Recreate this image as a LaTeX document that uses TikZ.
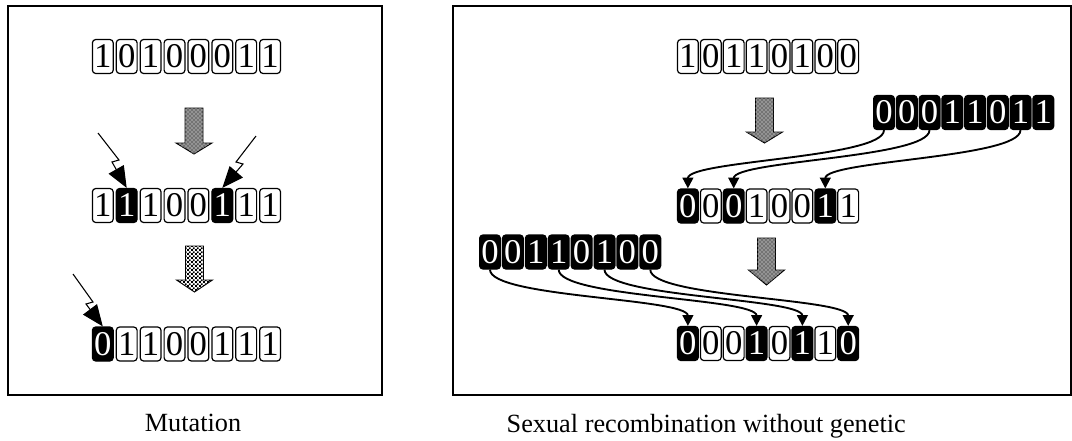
\documentclass[tikz,border=0pt]{standalone}
\usepackage{fontspec}
\setmainfont{Liberation Serif}
\usepackage{tikz}
\usetikzlibrary{arrows.meta,patterns}

\pgfdeclarepatternformonly{finechecker}{\pgfpointorigin}{\pgfqpoint{2.8pt}{2.8pt}}%
  {\pgfqpoint{2.8pt}{2.8pt}}{%
  \pgfpathrectangle{\pgfpointorigin}{\pgfqpoint{1.4pt}{1.4pt}}%
  \pgfpathrectangle{\pgfqpoint{1.4pt}{1.4pt}}{\pgfqpoint{1.4pt}{1.4pt}}%
  \pgfusepath{fill}}

% one chromosome: name, x of first cell, y, pitch, list digit/style
\newcommand{\bitrow}[5]{%
  \foreach \dig/\sty [count=\i] in {#5}
    \node[\sty] (#1-\i) at ({#2+(\i-1)*#4},#3) {\dig};
}
% block arrow: x, top, head, tip, style
\newcommand{\bigarrow}[5]{%
  \draw[#5] (#1-9,#2) -- (#1+9,#2) -- (#1+9,#3) -- (#1+18,#3) -- (#1,#4)
    -- (#1-18,#3) -- (#1-9,#3) -- cycle;
}

\begin{document}
\begin{tikzpicture}[x=0.75pt, y=-0.75pt,
    bit/.style={rounded corners=2.5pt, line width=0.9pt, minimum width=15.6pt,
      minimum height=25.5pt, inner sep=0pt, font=\fontsize{26}{26}\selectfont},
    wb/.style={bit, draw=black, fill=white, text=black},
    bb/.style={bit, draw=black, fill=black, text=white},
    dotarrow/.style={draw=black, line width=0.7pt, fill=black!55,
      postaction={pattern=crosshatch dots, pattern color=white}},
    checkarrow/.style={draw=black, line width=0.7pt, fill=white,
      postaction={pattern=finechecker, pattern color=black}},
    bolt/.style={line width=0.8pt, -{Triangle[length=16pt,width=13pt]}},
    link/.style={line width=1.4pt, -{Triangle[length=8pt,width=8pt]}}]
    \useasboundingbox (0,0) rectangle (1072,440);

    % Frames
    \draw[line width=1.1pt] (8,6) rectangle (382,395);
    \draw[line width=1.1pt] (453,6) rectangle (1071,395);

    % Mutation
    \bitrow{ma}{102.8}{56.5}{23.9}{1/wb,0/wb,1/wb,0/wb,0/wb,0/wb,1/wb,1/wb}
    \bitrow{mb}{102.8}{205.5}{23.9}{1/wb,1/bb,1/wb,0/wb,0/wb,1/bb,1/wb,1/wb}
    \bitrow{mc}{102.8}{344}{23.9}{0/bb,1/wb,1/wb,0/wb,0/wb,1/wb,1/wb,1/wb}

    \bigarrow{194}{108}{143}{154}{dotarrow}
    \bigarrow{194.5}{246}{280}{292}{checkarrow}

    \coordinate (z1) at (98,133);
    \draw[bolt] (z1) -- ++(21,27) -- ++(-7,2) -- (mb-2.north);
    \coordinate (z2) at (256,136);
    \draw[bolt] (z2) -- ++(-20,26) -- ++(7,2) -- (mb-6.north);
    \coordinate (z3) at (73,274);
    \draw[bolt] (z3) -- ++(20,28) -- ++(-7,2) -- (mc-1.north);

    \node[anchor=base, font=\fontsize{19.7}{22}\selectfont] (cap1) at (193,431) {Mutation};

    % Sexual recombination
    \bitrow{ra}{687.9}{56.5}{22.9}{1/wb,0/wb,1/wb,1/wb,0/wb,1/wb,0/wb,0/wb}
    \bitrow{rb}{884}{112.5}{22.75}{0/bb,0/bb,0/bb,1/bb,1/bb,0/bb,1/bb,1/bb}
    \bitrow{rc}{687.9}{206}{22.9}{0/bb,0/wb,0/bb,1/wb,0/wb,0/wb,1/bb,1/wb}
    \bitrow{rd}{490}{252}{22.9}{0/bb,0/bb,1/bb,1/bb,0/bb,1/bb,0/bb,0/bb}
    \bitrow{re}{687.9}{343.5}{22.9}{0/bb,0/wb,0/wb,1/bb,0/wb,1/bb,1/wb,0/bb}

    \bigarrow{764.5}{98}{132}{143}{dotarrow}
    \bigarrow{766.5}{238}{270}{285}{dotarrow}

    \draw[link] (rb-1.south) .. controls +(0,28) and +(0,-28) .. (rc-1.north);
    \draw[link] (rb-3.south) .. controls +(0,28) and +(0,-28) .. (rc-3.north);
    \draw[link] (rb-7.south) .. controls +(0,28) and +(0,-28) .. (rc-7.north);

    \draw[link] (rd-1.south) .. controls +(0,28) and +(0,-28) .. (re-1.north);
    \draw[link] (rd-4.south) .. controls +(0,28) and +(0,-28) .. (re-4.north);
    \draw[link] (rd-6.south) .. controls +(0,28) and +(0,-28) .. (re-6.north);
    \draw[link] (rd-8.south) .. controls +(0,28) and +(0,-28) .. (re-8.north);

    \node[anchor=base west, font=\fontsize{19.7}{22}\selectfont] (cap2) at (502,432)
      {Sexual recombination without genetic};
\end{tikzpicture}
\end{document}
